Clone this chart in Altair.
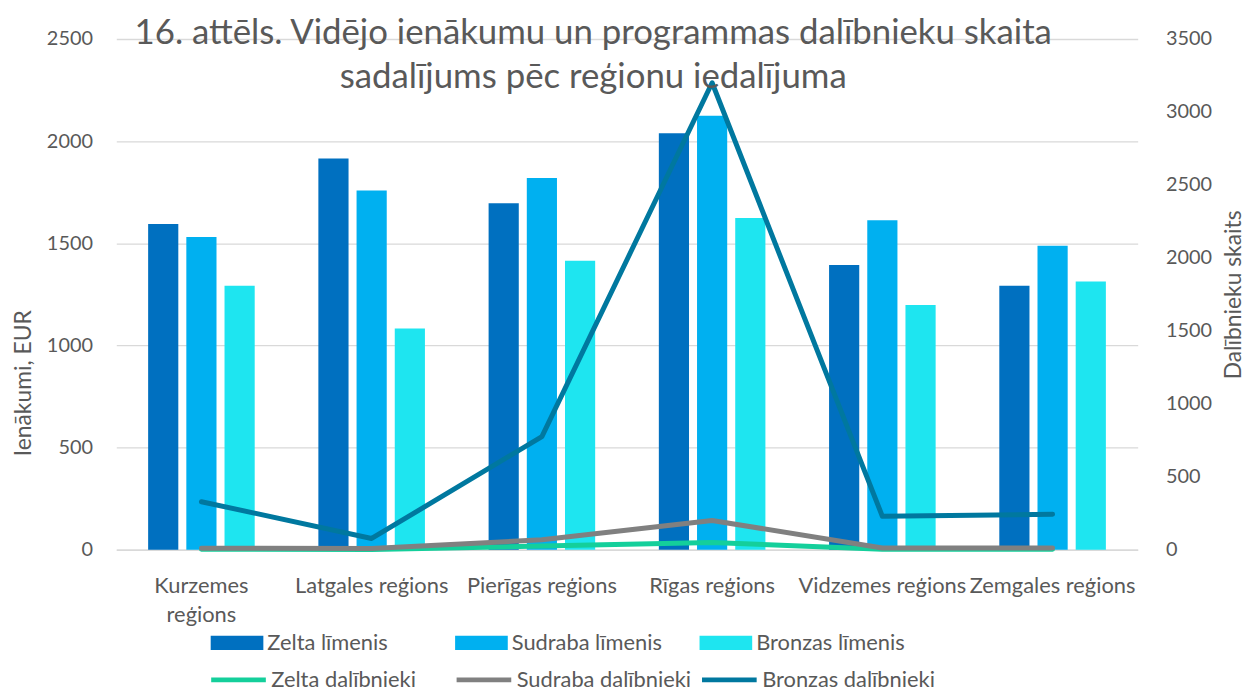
import altair as alt
import pandas as pd

regions = ["Kurzemes reģions", "Latgales reģions", "Pierīgas reģions",
           "Rīgas reģions", "Vidzemes reģions", "Zemgales reģions"]
levels = ["Zelta līmenis", "Sudraba līmenis", "Bronzas līmenis"]
series = ["Zelta dalībnieki", "Sudraba dalībnieki", "Bronzas dalībnieki"]

zelta_income = [1594, 1915, 1696, 2039, 1394, 1292]
sudraba_income = [1531, 1759, 1820, 2124, 1613, 1488]
bronzas_income = [1292, 1083, 1415, 1624, 1198, 1313]

zelta_part = [3, 2, 25, 50, 3, 3]
sudraba_part = [10, 8, 68, 200, 12, 12]
bronzas_part = [329, 77, 775, 3200, 229, 243]

bar_colors = ["#0070C0", "#00B0F0", "#1EE5F0"]
line_colors = ["#14CF9B", "#808080", "#00789F"]

bars_rows = []
for lev, vals in zip(levels, [zelta_income, sudraba_income, bronzas_income]):
    for r, v in zip(regions, vals):
        bars_rows.append({"region": r, "level": lev, "income": v})
bars_df = pd.DataFrame(bars_rows)

line_rows = []
for s, vals in zip(series, [zelta_part, sudraba_part, bronzas_part]):
    for r, v in zip(regions, vals):
        line_rows.append({"region": r, "series": s, "count": v})
lines_df = pd.DataFrame(line_rows)

FONT = "Lato"
TXT = "#595959"
GRID = "#D9D9D9"

x_enc = alt.X("region:N", sort=regions,
              scale=alt.Scale(domain=regions, paddingInner=0.374, paddingOuter=0.187),
              axis=alt.Axis(title=None, labelAngle=0, ticks=False, domainColor=GRID,
                            domainWidth=1.5, labelFontSize=22, labelColor=TXT,
                            labelPadding=26, labelLimit=400, labelOverlap=False,
                            labelLineHeight=29, labelFont=FONT,
                            labelExpr="datum.value == 'Kurzemes reģions' ? ['Kurzemes', 'reģions'] : datum.value"))

bars = alt.Chart(bars_df).mark_bar().encode(
    x=x_enc,
    xOffset=alt.XOffset("level:N", sort=levels,
                        scale=alt.Scale(domain=levels, paddingInner=0.21, paddingOuter=0)),
    y=alt.Y("income:Q",
            scale=alt.Scale(domain=[0, 2500], nice=False),
            axis=alt.Axis(title="Ienākumi, EUR", values=[0, 500, 1000, 1500, 2000, 2500],
                          format="d",
                          grid=True, gridColor=GRID, gridWidth=1.3, ticks=False, domain=False,
                          labelFontSize=20, labelColor=TXT, labelPadding=24, labelFont=FONT,
                          titleFontSize=23, titleColor=TXT, titleFontWeight="normal",
                          titleFont=FONT, titlePadding=11, titleY=346)),
    color=alt.Color("level:N", sort=levels,
                    scale=alt.Scale(domain=levels, range=bar_colors),
                    legend=alt.Legend(title=None, orient="none", legendX=95, legendY=581,
                                      direction="horizontal", columns=3, gridAlign="all",
                                      columnPadding=37, symbolType="M-1,-0.27H1V0.27H-1Z",
                                      symbolSize=2809, symbolStrokeWidth=0,
                                      labelFontSize=22, labelColor=TXT, labelFont=FONT,
                                      labelOffset=4, padding=0, labelLimit=300)),
)

y_right = alt.Y("count:Q",
                scale=alt.Scale(domain=[0, 3500], nice=False),
                axis=alt.Axis(title="Dalībnieku skaits", orient="right",
                              values=[0, 500, 1000, 1500, 2000, 2500, 3000, 3500],
                              format="d",
                              grid=False, ticks=False, domain=False,
                              labelFontSize=20, labelColor=TXT, labelPadding=28, labelFont=FONT,
                              titleFontSize=23, titleColor=TXT, titleFontWeight="normal",
                              titleFont=FONT, titlePadding=34, titleAngle=270))

stroke_enc = alt.Stroke("series:N", sort=series,
                        scale=alt.Scale(domain=series, range=line_colors),
                        legend=alt.Legend(title=None, orient="none", legendX=93, legendY=615,
                                          direction="horizontal", columns=3, gridAlign="all",
                                          columnPadding=0, symbolType="stroke",
                                          symbolSize=3025, symbolStrokeWidth=5,
                                          labelFontSize=22, labelColor=TXT, labelFont=FONT,
                                          labelOffset=3, padding=0, labelLimit=300))

def line_layer(name):
    return alt.Chart(lines_df).transform_filter(
        alt.datum.series == name
    ).mark_line(strokeWidth=5, strokeCap="round", strokeJoin="round").encode(
        x=alt.X("region:N", sort=regions,
                scale=alt.Scale(domain=regions, paddingInner=0.374, paddingOuter=0.187)),
        y=y_right,
        stroke=stroke_enc,
    )

lines = alt.layer(*[line_layer(s) for s in series])

chart = alt.layer(bars, lines).resolve_scale(y="independent").properties(
    width=1028, height=514,
    autosize=alt.AutoSizeParams(type="none"),
    padding={"left": 109, "top": 29, "right": 110, "bottom": 140},
    title=alt.TitleParams(
        text=["16. attēls. Vidējo ienākumu un programmas dalībnieku skaita",
              "sadalījums pēc reģionu iedalījuma"],
        fontSize=35, font=FONT, color=TXT, fontWeight="normal", anchor="middle",
        dx=-34, offset=-66, lineHeight=44),
).configure_view(stroke=None)

chart.save("out.html", embed_options={"renderer": "svg", "actions": False})
